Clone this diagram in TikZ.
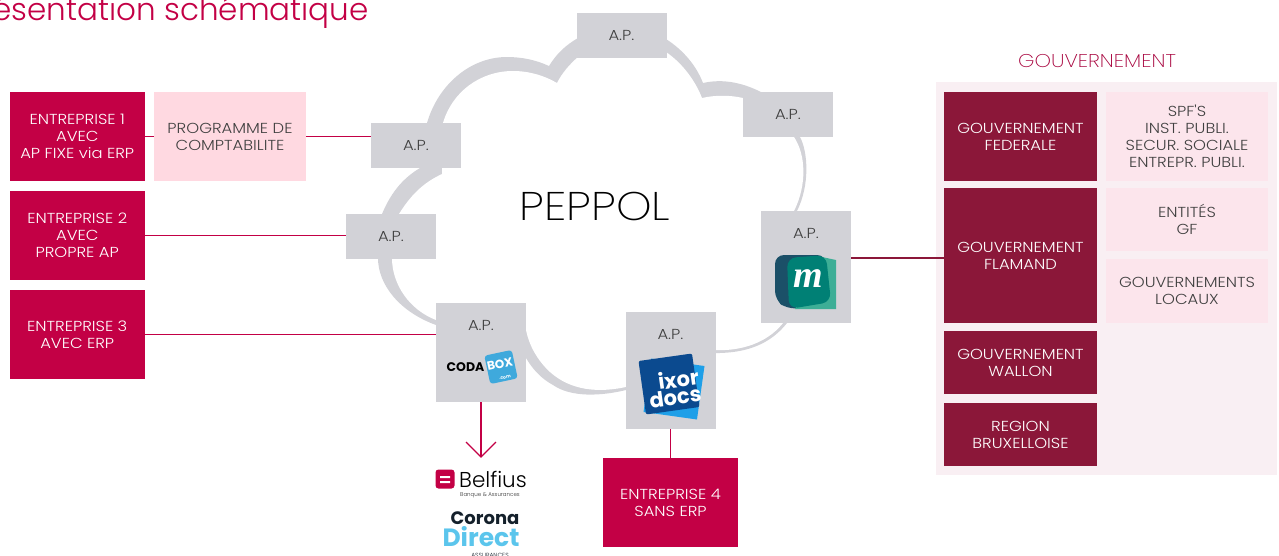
\documentclass[tikz,border=0pt]{standalone}
\usepackage{fontspec}
\setmainfont{Poppins}[UprightFont=* Light,BoldFont=* Bold]
\newfontfamily\mont{Poppins}[UprightFont=* Light,FakeStretch=1.13]
\newfontfamily\fin{Poppins}[UprightFont=* ExtraLight,FakeStretch=1.13]
\newfontfamily\serifm{Liberation Serif}
\usepackage{tikz}
\definecolor{crimson}{HTML}{C30045}
\definecolor{bordeaux}{HTML}{8B1739}
\definecolor{rose}{HTML}{FFD9E1}
\definecolor{rosep}{HTML}{FCE5EC}
\definecolor{fond}{HTML}{F9EFF3}
\definecolor{gris}{HTML}{D2D2D7}
\definecolor{petrole}{HTML}{1B5068}
\definecolor{vert}{HTML}{008075}
\definecolor{vertc}{HTML}{3DAE96}
\definecolor{ciel}{HTML}{3FA9DC}
\definecolor{marine}{HTML}{0B4A8F}
\definecolor{azur}{HTML}{1E9FE8}
\definecolor{direct}{HTML}{5BC5EC}
\definecolor{nuit}{HTML}{14202B}
\tikzset{
  boite/.style={inner sep=0pt,align=center,font=\mont\fontsize{14.5}{17}\selectfont,text=white},
  ent/.style={boite,fill=crimson,minimum width=134.5pt,minimum height=89pt},
  gov/.style={boite,fill=bordeaux,minimum width=153pt},
  sub/.style={boite,fill=rosep,text=black!75,minimum width=162pt},
  ap/.style={boite,fill=gris,text=black!75,minimum width=90pt,minimum height=45pt},
  lien/.style={draw=crimson,line width=1.1pt},
}
\begin{document}
\begin{tikzpicture}[x=1pt,y=-1pt]
        \useasboundingbox (0,0) rectangle (1279,555);
        % nuage
        \fill[gris] (382,214) .. controls (392,190) and (405,177) .. (420,168) -- (427,123)
          .. controls (438,85) and (470,57) .. (507,57) .. controls (522,57) and (536,60) .. (549,66)
          .. controls (557,53) and (566,45) .. (578,38) -- (666,39)
          .. controls (683,50) and (696,65) .. (703,83) .. controls (725,78) and (745,84) .. (761,92)
          -- (800,137) .. controls (808,152) and (810,185) .. (797,211) -- (787,323)
          .. controls (775,338) and (755,354) .. (712,353) -- (630,389)
          .. controls (600,397) and (570,397) .. (553,385) .. controls (540,378) and (532,368) .. (526,358)
          -- (436,325) .. controls (400,312) and (378,285) .. (378,258) -- cycle;
        \fill[white] (399,214) .. controls (412,193) and (425,182) .. (442,174) -- (443,123)
          .. controls (452,92) and (480,71) .. (513,71) .. controls (530,71) and (545,76) .. (557,83)
          .. controls (562,73) and (570,64) .. (578,57) -- (666,52)
          .. controls (682,63) and (695,80) .. (702,98) .. controls (715,95) and (730,95) .. (743,98)
          -- (794,137) .. controls (806,155) and (807,185) .. (794,211) -- (783,323)
          .. controls (772,337) and (750,352) .. (712,350) -- (630,386)
          .. controls (598,394) and (570,390) .. (550,372) .. controls (537,360) and (529,345) .. (526,330)
          -- (436,320) .. controls (410,310) and (392,285) .. (392,258) -- cycle;
        % titre
        \node[anchor=base east,inner sep=0pt,text=crimson,font=\fontsize{31}{31}\selectfont] (TITRE) at (369,20) {ésentation schématique};
        \node[inner sep=0pt,font=\fin\fontsize{40}{40}\selectfont,text=black] (PEPPOL) at (595,206) {PEPPOL};
        % gouvernement
        \node[fill=fond,minimum width=341pt,minimum height=393pt,inner sep=0pt] (FOND) at (1106.5,278.5) {};
        \node[inner sep=0pt,text=crimson!85!black,font=\fin\fontsize{18.5}{20}\selectfont] (GOUV) at (1097,61) {GOUVERNEMENT};
        \node[gov,minimum height=89pt] (GF) at (1020.5,136.5) {GOUVERNEMENT\\FEDERALE};
        \node[gov,minimum height=135pt] (GL) at (1020.5,255.5) {GOUVERNEMENT\\FLAMAND};
        \node[gov,minimum height=63pt] (GW) at (1020.5,362.5) {GOUVERNEMENT\\WALLON};
        \node[gov,minimum height=63pt] (GB) at (1020.5,434.5) {REGION\\BRUXELLOISE};
        \node[sub,minimum height=89pt] (S1) at (1187,136.5) {SPF'S\\INST. PUBLI.\\SECUR. SOCIALE\\ENTREPR. PUBLI.};
        \node[sub,minimum height=63pt] (S2) at (1187,219.5) {ENTITÉS\\GF};
        \node[sub,minimum height=64pt] (S3) at (1187,291) {GOUVERNEMENTS\\LOCAUX};
        % entreprises
        \node[ent] (E1) at (77.25,136.5) {ENTREPRISE 1\\AVEC\\AP FIXE via ERP};
        \node[ent] (E2) at (77.25,235.5) {ENTREPRISE 2\\AVEC\\PROPRE AP};
        \node[ent] (E3) at (77.25,334.5) {ENTREPRISE 3\\AVEC ERP};
        \node[ent] (E4) at (670.5,502.5) {ENTREPRISE 4\\SANS ERP};
        \node[boite,fill=rose,text=black!75,minimum width=152pt,minimum height=89pt] (PROG) at (230,136.5) {PROGRAMME DE\\COMPTABILITE};
        % access points
        \node[ap] (AP1) at (416,145.5) {A.P.};
        \node[ap] (AP2) at (391,236) {A.P.};
        \node[ap] (AP3) at (621.5,35) {A.P.};
        \node[ap] (AP4) at (788,114.5) {A.P.};
        \node[ap,minimum height=112pt] (APM) at (806,267) {};
        \node[ap,minimum height=99pt] (APC) at (481,352.5) {};
        \node[ap,minimum height=117pt] (APX) at (670.5,370.5) {};
        \node[boite,text=black!75] (APMt) at (806,233.5) {A.P.};
        \node[boite,text=black!75] (APCt) at (481,325.5) {A.P.};
        \node[boite,text=black!75] (APXt) at (670.5,334.5) {A.P.};
        % liens
        \coordinate (Mx) at (851,258);
        \coordinate (Fl) at (481,457);
        \draw
        (E1) edge[lien] (PROG)
        (PROG.east) edge[lien] (PROG.east -| AP1.west)
        (E2.east) edge[lien] (E2.east -| AP2.west)
        (E3.east) edge[lien] (E3.east -| APC.west)
        (APX) edge[lien] (E4)
        (Mx) edge[draw=bordeaux,line width=1.1pt] (Mx -| GL.west)
        (APC.south) edge[lien] (Fl)
        ;
        \draw[lien] (466,442) -- (Fl) -- (496,442);
        % logo m
        \fill[petrole,rounded corners=9pt] (775,255) -- (826,255) -- (829,306) -- (787,309) -- (775,300) -- cycle;
        \fill[vertc] (822,257) -- (836,260) -- (836,309) -- (795,309) -- cycle;
        \fill[vert,rounded corners=9pt] (787,258) -- (826,255) -- (831,302) -- (789,309) -- cycle;
        \node[inner sep=0pt,text=white,font=\serifm\fontsize{38}{38}\selectfont\itshape\bfseries] (LM) at (808,279) {m};
        % logo codabox
        \node[rotate=12,fill=ciel,rounded corners=3pt,minimum width=28pt,minimum height=29pt,inner sep=0pt] (LB) at (501,367) {};
        \node[rotate=12,inner sep=0pt,text=white,font=\fontsize{12}{12}\selectfont\bfseries] (LBt) at (500,364) {BOX};
        \node[rotate=12,inner sep=0pt,text=white,font=\fontsize{4.5}{4.5}\selectfont\bfseries] (LBc) at (505,377.5) {.com};
        \node[inner sep=0pt,text=black,font=\fontsize{12.5}{12.5}\selectfont\bfseries] (LC) at (465.5,367) {CODA};
        % logo ixor
        \node[rotate=-8,fill=azur,minimum width=54pt,minimum height=54pt,inner sep=0pt] (LX2) at (674,389) {};
        \node[rotate=8,fill=marine,minimum width=54pt,minimum height=54pt,rounded corners=2pt,inner sep=0pt] (LX1) at (669,384) {};
        \node[rotate=8,inner sep=0pt,align=right,text=white,font=\fontsize{21}{17}\selectfont\bfseries] (LXt) at (674,388) {ixor\\docs};
        % belfius
        \node[fill=crimson,rounded corners=3pt,minimum width=19pt,minimum height=19pt,inner sep=0pt] (LBE) at (445,479) {};
        \fill[white] (440,476) rectangle (450,478) (440,481) rectangle (450,483);
        \node[inner sep=0pt,anchor=west,text=black,font=\fontsize{21.5}{22}\selectfont] (BEL) at (459,479) {Belfius};
        \node[inner sep=0pt,text=black!80,font=\fontsize{5.5}{5.5}\selectfont] (BEA) at (490,495) {Banque \& Assurances};
        % corona
        \node[inner sep=0pt,text=nuit,font=\fontsize{18}{18}\selectfont\bfseries] (COR) at (485,518) {Corona};
        \node[inner sep=0pt,text=direct,font=\fontsize{25}{25}\selectfont\bfseries] (DIR) at (481,537) {Direct};
        \node[inner sep=0pt,text=nuit,font=\fontsize{6}{6}\selectfont] (ASS) at (490,555) {ASSURANCES};
      \end{tikzpicture}
\end{document}
